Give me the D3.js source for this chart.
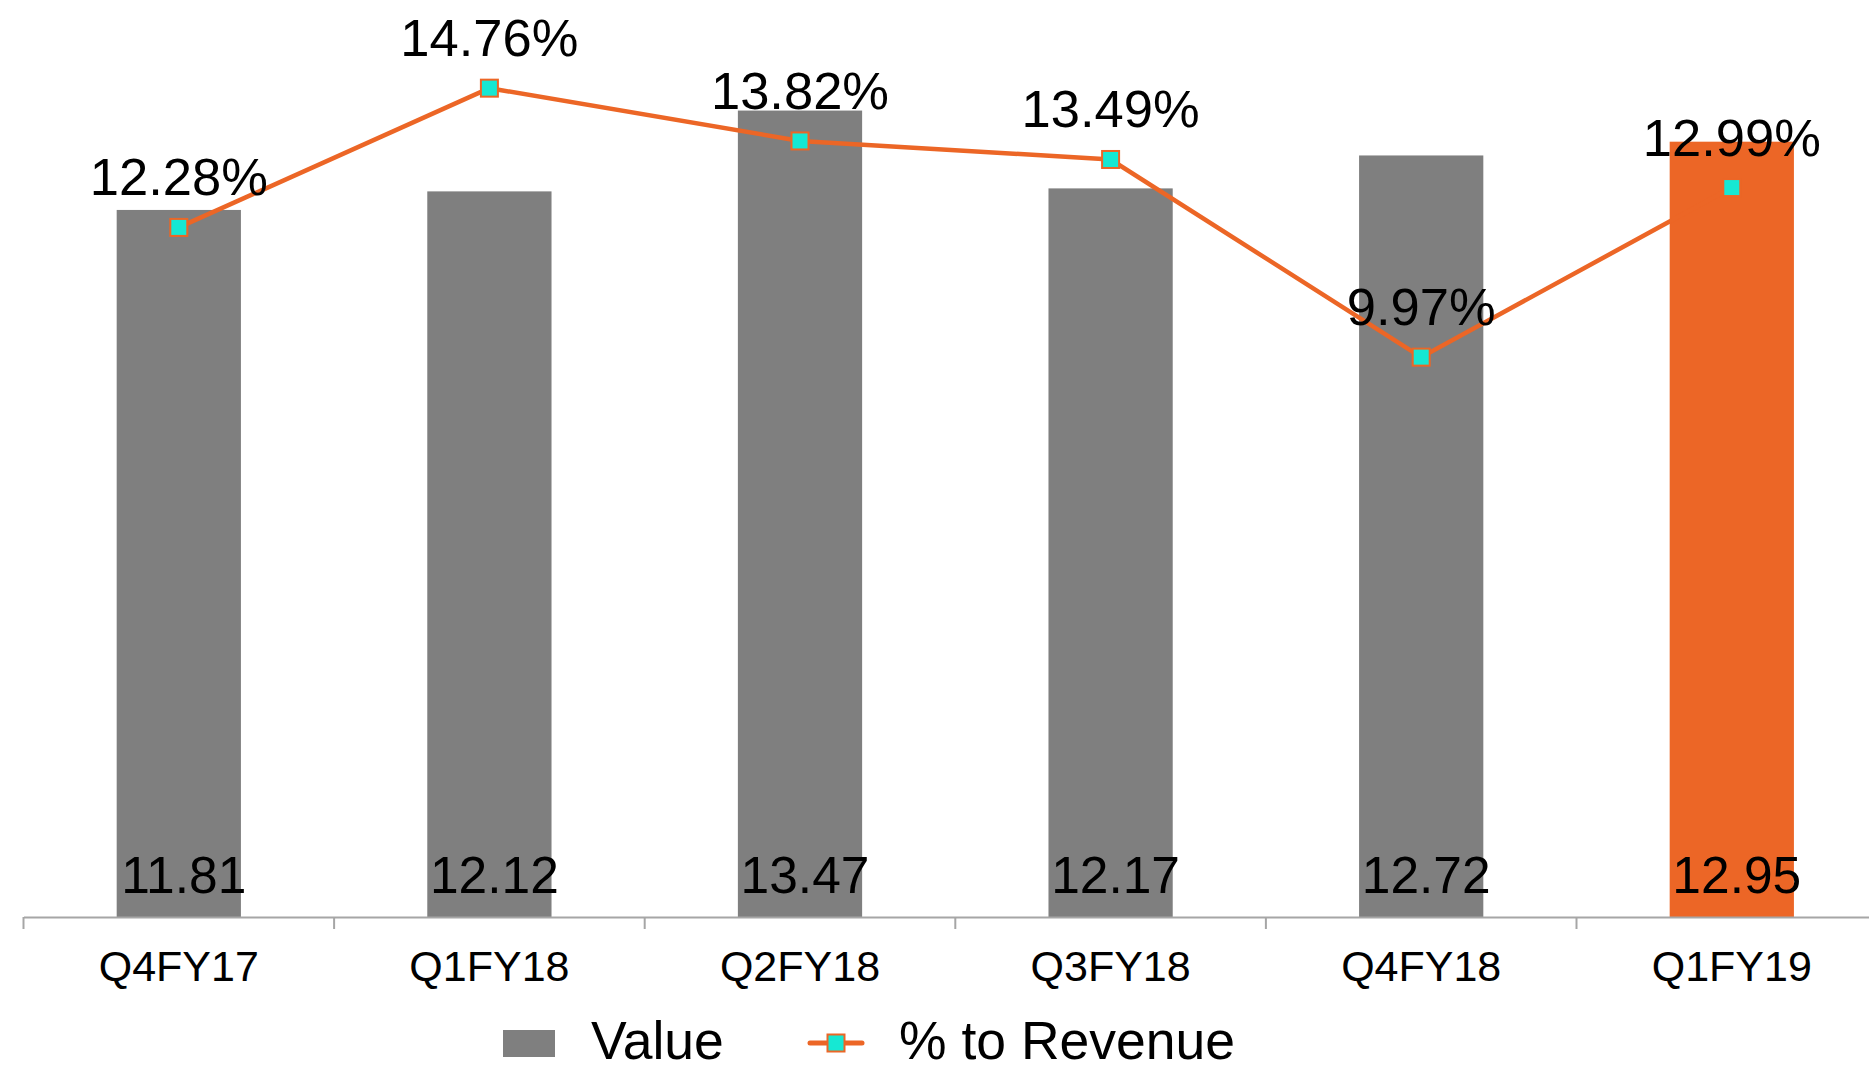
<!DOCTYPE html>
<html>
<head>
<meta charset="utf-8">
<script src="https://cdn.jsdelivr.net/npm/d3@7"></script>
<style>
  html, body { margin: 0; padding: 0; background: #fff; }
  svg { display: block; font-family: Arial, "Liberation Sans", sans-serif; }
</style>
</head>
<body>
<div id="chart"></div>
<script>
const quarters = ['Q4FY17', 'Q1FY18', 'Q2FY18', 'Q3FY18', 'Q4FY18', 'Q1FY19'];
const values = [11.81, 12.12, 13.47, 12.17, 12.72, 12.95];
const pctRevenue = [12.28, 14.76, 13.82, 13.49, 9.97, 12.99];

const width = 1869;
const height = 1069;
const axisY = 917;

const grey = '#7f7f7f';
const orange = '#ec6626';
const teal = '#16e8d3';

const svg = d3.select('#chart')
  .append('svg')
  .attr('width', width)
  .attr('height', height);

const rows = quarters.map((q, i) => ({ q, value: values[i], pct: pctRevenue[i], last: i === quarters.length - 1 }));

// category axis runs off the right edge like the original
const x = d3.scaleBand()
  .domain(quarters)
  .range([23.5, 23.5 + 6 * 310.6])
  .padding(0);

const y = d3.scaleLinear().domain([0, 15.3]).range([axisY, 1]);
const y2 = d3.scaleLinear().domain([0, 16.33]).range([axisY, 0]);

const barW = x.bandwidth() * 0.4;
const cx = d => x(d.q) + x.bandwidth() / 2;

// bars
svg.selectAll('rect.bar')
  .data(rows)
  .join('rect')
  .attr('class', 'bar')
  .attr('x', d => cx(d) - barW / 2)
  .attr('y', d => y(d.value))
  .attr('width', barW)
  .attr('height', d => y(0) - y(d.value))
  .attr('fill', d => d.last ? orange : grey);

// x axis
const xAxis = svg.append('g')
  .attr('transform', `translate(0,${axisY})`)
  .call(d3.axisBottom(x).tickSize(0).tickFormat(''));
xAxis.select('.domain').attr('stroke', '#a6a6a6').attr('stroke-width', 2);

svg.selectAll('line.tick-mark')
  .data(quarters)
  .join('line')
  .attr('class', 'tick-mark')
  .attr('x1', d => x(d))
  .attr('x2', d => x(d))
  .attr('y1', axisY)
  .attr('y2', axisY + 12)
  .attr('stroke', '#a6a6a6')
  .attr('stroke-width', 2);

svg.selectAll('text.cat')
  .data(rows)
  .join('text')
  .attr('class', 'cat')
  .attr('x', cx)
  .attr('y', 981)
  .attr('text-anchor', 'middle')
  .attr('font-size', 43)
  .text(d => d.q);

// value labels at the bottom of the bars
svg.selectAll('text.val')
  .data(rows)
  .join('text')
  .attr('class', 'val')
  .attr('x', d => cx(d) + 5)
  .attr('y', 893)
  .attr('text-anchor', 'middle')
  .attr('font-size', 51.5)
  .text(d => d.value.toFixed(2));

// % to revenue line
const line = d3.line()
  .x(cx)
  .y(d => y2(d.pct));

svg.append('path')
  .datum(rows)
  .attr('d', line)
  .attr('fill', 'none')
  .attr('stroke', orange)
  .attr('stroke-width', 4.5);

const m = 17;
svg.selectAll('rect.marker')
  .data(rows)
  .join('rect')
  .attr('class', 'marker')
  .attr('x', d => cx(d) - m / 2)
  .attr('y', d => y2(d.pct) - m / 2)
  .attr('width', m)
  .attr('height', m)
  .attr('fill', teal)
  .attr('stroke', orange)
  .attr('stroke-width', 2);

svg.selectAll('text.pct')
  .data(rows)
  .join('text')
  .attr('class', 'pct')
  .attr('x', cx)
  .attr('y', d => y2(d.pct) - 32)
  .attr('text-anchor', 'middle')
  .attr('font-size', 52.5)
  .text(d => d.pct.toFixed(2) + '%');

// legend
const legend = svg.append('g');
legend.append('rect')
  .attr('x', 503)
  .attr('y', 1030)
  .attr('width', 52)
  .attr('height', 27)
  .attr('fill', grey);
legend.append('text')
  .attr('x', 591)
  .attr('y', 1059)
  .attr('font-size', 53.5)
  .text('Value');
legend.append('line')
  .attr('x1', 810)
  .attr('x2', 862)
  .attr('y1', 1043)
  .attr('y2', 1043)
  .attr('stroke', orange)
  .attr('stroke-width', 5)
  .attr('stroke-linecap', 'round');
legend.append('rect')
  .attr('x', 836 - m / 2)
  .attr('y', 1043 - m / 2)
  .attr('width', m)
  .attr('height', m)
  .attr('fill', teal)
  .attr('stroke', orange)
  .attr('stroke-width', 2);
legend.append('text')
  .attr('x', 899)
  .attr('y', 1059)
  .attr('font-size', 53.5)
  .text('% to Revenue');
</script>
</body>
</html>
